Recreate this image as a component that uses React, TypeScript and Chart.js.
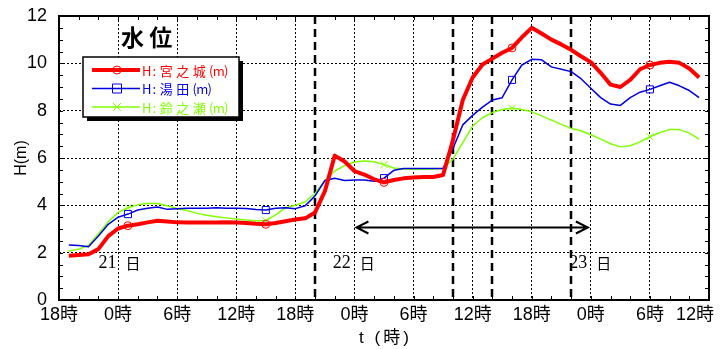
import React, { useEffect, useRef } from "react";
import { Chart, registerables } from "chart.js";

Chart.register(...registerables);

// hours elapsed since 18時 on the 20th
const hours = [
  1, 2, 3, 4, 5, 6, 7, 8, 9, 10, 11, 12, 13, 14, 15, 16, 17, 18, 19, 20,
  21, 22, 23, 24, 25, 26, 27, 28, 29, 30, 31, 32, 33, 34, 35, 36, 37, 38, 39, 40,
  41, 42, 43, 44, 45, 46, 47, 48, 49, 50, 51, 52, 53, 54, 55, 56, 57, 58, 59, 60,
  61, 62, 63, 64, 65,
];

const miyanojo = [
  1.87, 1.9, 1.93, 2.15, 2.7, 3.02, 3.14, 3.2, 3.28, 3.35, 3.32, 3.28, 3.27, 3.27, 3.27, 3.27, 3.28, 3.27, 3.25, 3.22,
  3.2, 3.25, 3.33, 3.4, 3.45, 3.7, 4.6, 6.1, 5.85, 5.45, 5.3, 5.1, 4.97, 5.07, 5.14, 5.18, 5.2, 5.2, 5.28, 6.75,
  8.45, 9.4, 9.95, 10.2, 10.45, 10.65, 11.1, 11.5, 11.26, 11.0, 10.8, 10.57, 10.3, 10.05, 9.6, 9.1, 9.0, 9.3, 9.75, 9.93,
  10.02, 10.07, 10.02, 9.78, 9.4,
];

const yuda = [
  2.32, 2.3, 2.25, 2.7, 3.2, 3.5, 3.63, 3.8, 3.88, 3.93, 3.83, 3.86, 3.88, 3.88, 3.88, 3.9, 3.88, 3.88, 3.87, 3.82,
  3.8, 3.88, 3.9, 3.86, 3.98, 4.4, 5.05, 5.14, 5.05, 5.07, 5.07, 5.02, 5.15, 5.48, 5.56, 5.56, 5.56, 5.56, 5.56, 6.4,
  7.4, 7.8, 8.15, 8.45, 8.55, 9.3, 9.93, 10.17, 10.15, 9.85, 9.75, 9.65, 9.35, 8.95, 8.55, 8.28, 8.22, 8.55, 8.78, 8.9,
  9.05, 9.2, 9.05, 8.85, 8.55,
];

const suzunose = [
  2.07, 2.15, 2.3, 2.8, 3.3, 3.7, 3.9, 4.02, 4.08, 4.08, 3.98, 3.87, 3.78, 3.66, 3.58, 3.52, 3.47, 3.42, 3.38, 3.35,
  3.35, 3.6, 3.9, 4.0, 4.15, 4.5, 5.05, 5.45, 5.68, 5.83, 5.87, 5.84, 5.72, 5.58, 5.54, 5.52, 5.52, 5.53, 5.56, 5.95,
  6.65, 7.35, 7.7, 7.92, 8.05, 8.1, 8.05, 7.95, 7.78, 7.6, 7.42, 7.25, 7.15, 6.98, 6.8, 6.6, 6.47, 6.52, 6.68, 6.9,
  7.08, 7.2, 7.2, 7.05, 6.8,
];

const markerHours = [7, 21, 33, 46, 60];
const seriesNames = ["H:宮之城(m)", "H:湯田(m)", "H:鈴之瀬(m)"];
const seriesColors = ["#ff0000", "#0000e0", "#80ff00"];

const eventHours = [26, 40, 44, 52];
const arrowFrom = 30.2;
const arrowTo = 53.7;
const arrowLevel = 3.1;
const dayLabels = ["21", "22", "23"];
const dayLabelHours = [4, 27.8, 51.8];
const dayLabelLevel = 1.35;

const chartTitle = "水 位";
const yTitle = "H(m)";
const xTitle = "t (時)";
const startClock = 18;

const SANS = "Arial, 'Liberation Sans', 'Noto Sans CJK JP', sans-serif";
const CJK = "'Noto Sans CJK JP', 'Noto Sans CJK SC', sans-serif";
const SERIF = "'Times New Roman', 'Liberation Serif', serif";

const clockLabel = (v: number) => `${(startClock + v) % 24}時`;

function drawCells(ctx: CanvasRenderingContext2D, text: string, x: number, y: number, half: number, full: number) {
  let cx = x;
  for (const ch of text) {
    const adv = ch.charCodeAt(0) < 256 ? half : full;
    ctx.fillText(ch, cx + adv / 2, y);
    cx += adv;
  }
}

function drawSpaced(ctx: CanvasRenderingContext2D, text: string, cx: number, y: number, spacing: number) {
  const chars = Array.from(text);
  const widths = chars.map((c) => ctx.measureText(c).width);
  const total = widths.reduce((s, w) => s + w, 0) + spacing * (chars.length - 1);
  let x = cx - total / 2;
  ctx.textAlign = "left";
  chars.forEach((c, i) => {
    ctx.fillText(c, x, y);
    x += widths[i] + spacing;
  });
}

function drawMarker(ctx: CanvasRenderingContext2D, kind: number, x: number, y: number, color: string) {
  ctx.strokeStyle = color;
  ctx.lineWidth = 1;
  ctx.beginPath();
  if (kind === 0) {
    ctx.arc(x, y, 4, 0, Math.PI * 2);
  } else if (kind === 1) {
    ctx.rect(x - 4.5, y - 4.5, 9, 9);
  } else {
    ctx.moveTo(x - 4, y - 4);
    ctx.lineTo(x + 4, y + 4);
    ctx.moveTo(x + 4, y - 4);
    ctx.lineTo(x - 4, y + 4);
  }
  ctx.stroke();
}

const overlay = {
  id: "overlay",
  beforeDatasetsDraw(chart: any) {
    const { ctx, chartArea: a } = chart;
    const x = chart.scales.x;
    const y = chart.scales.y;
    ctx.save();
    // event dashed lines
    ctx.strokeStyle = "#000";
    ctx.lineWidth = 2.5;
    ctx.setLineDash([8, 5]);
    for (const h of eventHours) {
      const px = Math.round(x.getPixelForValue(h));
      ctx.beginPath();
      ctx.moveTo(px, a.top);
      ctx.lineTo(px, a.bottom);
      ctx.stroke();
    }
    ctx.setLineDash([]);
    // arrow
    const ay = Math.round(y.getPixelForValue(arrowLevel)) + 0.5;
    const x1 = x.getPixelForValue(arrowFrom);
    const x2 = x.getPixelForValue(arrowTo);
    ctx.lineWidth = 2;
    ctx.beginPath();
    ctx.moveTo(x1, ay);
    ctx.lineTo(x2, ay);
    ctx.moveTo(x1 + 12, ay - 6);
    ctx.lineTo(x1, ay);
    ctx.lineTo(x1 + 12, ay + 6);
    ctx.moveTo(x2 - 12, ay - 6);
    ctx.lineTo(x2, ay);
    ctx.lineTo(x2 - 12, ay + 6);
    ctx.stroke();
    // day labels
    ctx.fillStyle = "#000";
    ctx.textBaseline = "alphabetic";
    ctx.textAlign = "left";
    const by = y.getPixelForValue(dayLabelLevel);
    dayLabels.forEach((d, i) => {
      const px = x.getPixelForValue(dayLabelHours[i]);
      ctx.font = `18px ${SERIF}`;
      ctx.fillText(d, px, by);
      const w = ctx.measureText(d).width;
      ctx.font = `15px ${CJK}`;
      ctx.fillText("日", px + w + 9, by + 1);
    });
    ctx.restore();
  },
  afterDraw(chart: any) {
    const { ctx, chartArea: a } = chart;
    const x = chart.scales.x;
    const y = chart.scales.y;
    ctx.save();
    // minor ticks
    ctx.strokeStyle = "#000";
    ctx.lineWidth = 1;
    ctx.beginPath();
    for (let v = 0; v <= 12; v += 0.5) {
      const py = Math.round(y.getPixelForValue(v)) + 0.5;
      ctx.moveTo(a.left, py);
      ctx.lineTo(a.left + 4, py);
      ctx.moveTo(a.right - 4, py);
      ctx.lineTo(a.right, py);
    }
    for (let h = 0; h <= 66; h += 2) {
      const px = Math.round(x.getPixelForValue(h)) + 0.5;
      ctx.moveTo(px, a.bottom);
      ctx.lineTo(px, a.bottom - 4);
      ctx.moveTo(px, a.top);
      ctx.lineTo(px, a.top + 4);
    }
    ctx.stroke();
    // frame
    ctx.lineWidth = 2;
    ctx.strokeRect(a.left, a.top, a.right - a.left, a.bottom - a.top);

    // x tick labels (kept inside the canvas like the original)
    ctx.fillStyle = "#000";
    ctx.font = `18px ${SANS}`;
    ctx.textAlign = "center";
    ctx.textBaseline = "middle";
    for (const t of x.ticks) {
      const txt = clockLabel(t.value);
      const w = ctx.measureText(txt).width;
      let px = x.getPixelForValue(t.value);
      px = Math.min(px, chart.width - 14 - w / 2);
      ctx.fillText(txt, px, a.bottom + 15);
    }

    // title
    ctx.fillStyle = "#000";
    ctx.font = `bold 23px ${CJK}`;
    ctx.textAlign = "left";
    ctx.textBaseline = "alphabetic";
    ctx.fillText(chartTitle, a.left + 62, a.top + 30);

    // legend
    const lx = a.left + 24;
    const ly = a.top + 41;
    const lw = 156;
    const lh = 60;
    ctx.fillStyle = "#000";
    ctx.fillRect(lx + 4, ly + 4, lw, lh);
    ctx.fillStyle = "#fff";
    ctx.fillRect(lx, ly, lw, lh);
    ctx.lineWidth = 1.5;
    ctx.strokeStyle = "#000";
    ctx.strokeRect(lx, ly, lw, lh);
    const widths = [4, 1.5, 1.5];
    seriesNames.forEach((name, i) => {
      const ry = ly + 13 + i * 18.5;
      ctx.strokeStyle = seriesColors[i];
      ctx.lineWidth = widths[i];
      ctx.beginPath();
      ctx.moveTo(lx + 9, ry);
      ctx.lineTo(lx + 57, ry);
      ctx.stroke();
      drawMarker(ctx, i, lx + 34, ry, seriesColors[i]);
      ctx.fillStyle = seriesColors[i];
      ctx.font = `13px ${CJK}`;
      ctx.textAlign = "center";
      ctx.textBaseline = "middle";
      drawCells(ctx, name, lx + 60, ry + 1, 7.5, 16.5);
    });

    // axis titles
    ctx.fillStyle = "#000";
    ctx.font = `16px ${SANS}`;
    ctx.textAlign = "center";
    ctx.textBaseline = "middle";
    ctx.save();
    ctx.translate(22, (a.top + a.bottom) / 2);
    ctx.rotate(-Math.PI / 2);
    ctx.fillText(yTitle, 0, 0);
    ctx.restore();
    ctx.font = `17px ${SANS}`;
    ctx.textBaseline = "middle";
    drawSpaced(ctx, xTitle, (a.left + a.right) / 2, 338, 3);
    ctx.restore();
  },
};

export default function App() {
  const ref = useRef<HTMLCanvasElement>(null);
  useEffect(() => {
    document.body.style.margin = "0";
    const canvas = ref.current!;
    const mk = (i: number, values: number[], style: string, lw: number, radius: number) => ({
      label: seriesNames[i],
      data: hours.map((h, k) => ({ x: h, y: values[k] })),
      borderColor: seriesColors[i],
      borderWidth: lw,
      pointStyle: style,
      pointRadius: hours.map((h) => (markerHours.includes(h) ? radius : 0)),
      pointBorderColor: seriesColors[i],
      pointBackgroundColor: "rgba(0,0,0,0)",
      pointBorderWidth: 1,
      tension: 0,
      borderJoinStyle: "round" as const,
      fill: false,
    });
    const chart = new Chart(canvas, {
      type: "line",
      data: {
        datasets: [
          mk(0, miyanojo, "circle", 4, 4),
          mk(1, yuda, "rect", 1.5, 5),
          mk(2, suzunose, "crossRot", 1.5, 5),
        ],
      },
      plugins: [overlay],
      options: {
        animation: false,
        responsive: false,
        devicePixelRatio: 1,
        layout: { padding: { left: 0, right: 19, top: 16, bottom: 0 } },
        plugins: { legend: { display: false }, tooltip: { enabled: false } },
        scales: {
          x: {
            type: "linear",
            min: 0,
            max: 66,
            grid: { color: "#000", lineWidth: 1, drawTicks: false },
            border: { display: false, dash: [2, 2] },
            ticks: {
              display: false,
              stepSize: 6,
              autoSkip: false,
              maxRotation: 0,
              callback: (v: any) => clockLabel(Number(v)),
            },
            afterFit: (s: any) => {
              s.height = 49;
              s.paddingLeft = 0;
              s.paddingRight = 0;
            },
          },
          y: {
            min: 0,
            max: 12,
            grid: { color: "#000", lineWidth: 1, drawTicks: false },
            border: { display: false, dash: [2, 2] },
            ticks: {
              stepSize: 2,
              padding: 12,
              color: "#000",
              font: { family: SANS, size: 18 },
            },
            afterFit: (s: any) => {
              s.width = 59;
              s.paddingTop = 0;
              s.paddingBottom = 0;
            },
          },
        },
      },
    } as any);
    return () => chart.destroy();
  }, []);
  return (
    <div style={{ width: 728, height: 349 }}>
      <canvas ref={ref} width={728} height={349} style={{ display: "block", width: 728, height: 349 }} />
    </div>
  );
}
